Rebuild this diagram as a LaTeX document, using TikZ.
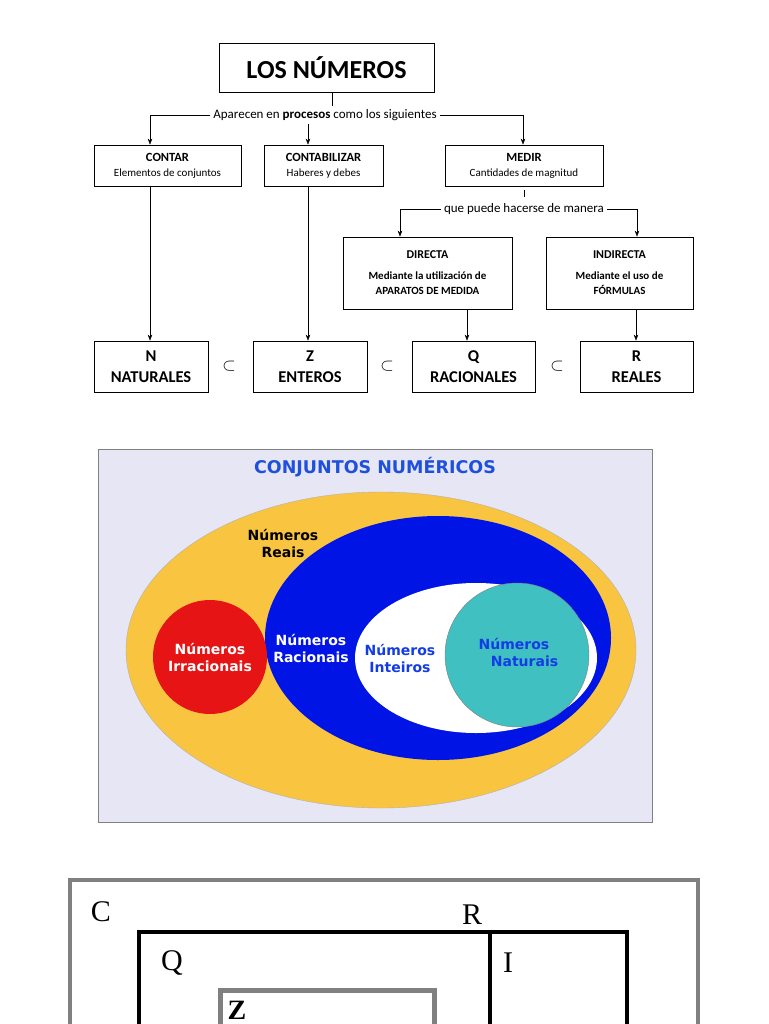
\documentclass[tikz,border=0pt]{standalone}
\usepackage{fontspec}
\setmainfont{Carlito}
\newfontfamily\tnr{Liberation Serif}
\newfontfamily\dvs{DejaVu Sans}
\usetikzlibrary{arrows.meta}
\definecolor{vbg}{RGB}{230,230,245}
\definecolor{vtit}{RGB}{30,80,220}
\definecolor{vyel}{RGB}{249,196,64}
\definecolor{vblue}{RGB}{0,20,230}
\definecolor{vteal}{RGB}{64,192,192}
\definecolor{vred}{RGB}{230,20,20}
\definecolor{vtxt}{RGB}{20,60,230}
\newcommand\smtx{\fontsize{11}{14}\selectfont}
\begin{document}
\begin{tikzpicture}[x=1pt,y=-1pt,
 bx/.style={draw,thick,fill=white,align=center,inner sep=0pt},
 arr/.style={-{Stealth[length=6pt]},thin},
 vl/.style={font=\dvs\bfseries\fontsize{14}{17}\selectfont,align=center}]
\useasboundingbox (0,0) rectangle (768,1024);
\node[bx,minimum width=215,minimum height=49,font=\bfseries\fontsize{26}{28}\selectfont] (top) at (326.5,67.5) {LOS NÚMEROS};
\node[bx,minimum width=147,minimum height=41,font=\fontsize{12.5}{15}\selectfont] (contar) at (167.5,165.5) {\textbf{CONTAR}\\\smtx Elementos de conjuntos};
\node[bx,minimum width=119,minimum height=41,font=\fontsize{12.5}{15}\selectfont] (conta) at (323.5,165.5) {\textbf{CONTABILIZAR}\\\smtx Haberes y debes};
\node[bx,minimum width=158,minimum height=41,font=\fontsize{12.5}{15}\selectfont] (medir) at (524,165.5) {\textbf{MEDIR}\\\smtx Cantidades de magnitud};
\node[bx,minimum width=169,minimum height=72,font=\fontsize{12}{15}\selectfont] (dir) at (427.5,273) {\textbf{DIRECTA}\\[6pt]\smtx\bfseries Mediante la utilización de\\\smtx\bfseries APARATOS DE MEDIDA};
\node[bx,minimum width=147,minimum height=72,font=\fontsize{12}{15}\selectfont] (ind) at (619.5,273) {\textbf{INDIRECTA}\\[6pt]\smtx\bfseries Mediante el uso de\\\smtx\bfseries FÓRMULAS};
\foreach \n/\x/\w/\a/\b in {N/151/114/N/NATURALES, Z/310/114/Z/ENTEROS, Q/473.5/123/Q/RACIONALES, R/636.5/113/R/REALES}
  \node[bx,minimum width=\w,minimum height=51,font=\bfseries\fontsize{16.5}{21}\selectfont] (\n) at (\x,366.5) {\a\\\b};
\foreach \x in {229,387,557} \node[font=\fontsize{17}{18}\selectfont] (sub\x) at (\x,366) {$\subset$};
\node[font=\fontsize{13}{15}\selectfont,fill=white,inner sep=3pt] (lab1) at (325,115) {Aparecen en \textbf{procesos} como los siguientes};
\draw (top.south) ++(5.5,0) coordinate (t0) -- (t0 |- lab1.north);
\coordinate (a1) at ([xshift=-17.5]contar.north);
\coordinate (a2) at ([xshift=-15.5]conta.north);
\coordinate (a3) at ([xshift=-1]medir.north);
\draw[arr] (lab1.west) -| (a1);
\draw[arr] (a2 |- lab1.south) -- (a2);
\draw[arr] (lab1.east) -| (a3);
\node[font=\fontsize{13}{15}\selectfont,fill=white,inner sep=3pt] (lab2) at (524,209) {que puede hacerse de manera};
\draw (medir.south) ++(0,4) -- ++(0,7);
\coordinate (a4) at ([xshift=-27.5]dir.north);
\coordinate (a5) at ([xshift=17.5]ind.north);
\draw[arr] (lab2.west) -| (a4);
\draw[arr] (lab2.east) -| (a5);
\draw[arr] (a1 |- contar.south) -- (a1 |- N.north);
\draw[arr] (a2 |- conta.south) -- (a2 |- Z.north);
\draw[arr] (dir.south) ++(39.5,0) coordinate (c3) -- (c3 |- Q.north);
\draw[arr] (ind.south) ++(16.5,0) coordinate (c4) -- (c4 |- R.north);
% Venn
\draw[fill=vbg,draw=gray] (98,449) rectangle (652,822);
\node[font=\dvs\bfseries\fontsize{17.5}{19}\selectfont,text=vtit] (vt) at (375,467) {CONJUNTOS NUMÉRICOS};
\fill[vyel] (381,650) ellipse (255 and 158);
\draw[gray!60] (381,650) ellipse (255 and 158);
\fill[vblue] (438,638) ellipse (173 and 122);
\fill[white] (476,658) ellipse (121 and 75);
\draw[fill=vteal,draw=gray] (517,655) circle (72);
\fill[vred] (210,657) circle (57);
\node[vl] (vr) at (283,543) {Números\\Reais};
\node[vl,text=white] (vi) at (210,657) {Números\\Irracionais};
\node[vl,text=white] (vq) at (311,648) {Números\\Racionais};
\node[vl,text=vtxt] (vz) at (400,658) {Números\\Inteiros};
\node[vl,text=vtxt] (vn) at (514,652) {Números\\\hspace*{1.5em}Naturais};
% bottom sets
\draw[line width=4pt,draw=gray] (70,880) rectangle (698,1040);
\draw[line width=4pt] (139,932) rectangle (627,1040);
\draw[line width=4pt] (490,932) -- (490,1040);
\draw[line width=5pt,draw=gray] (220,990) rectangle (434,1040);
\node[font=\tnr\fontsize{30}{32}\selectfont] (lc) at (101,912) {C};
\node[font=\tnr\fontsize{30}{32}\selectfont] (lr) at (472,915) {R};
\node[font=\tnr\fontsize{30}{32}\selectfont] (lq) at (172,963) {Q};
\node[font=\tnr\fontsize{30}{32}\selectfont] (li) at (508,963) {I};
\node[font=\tnr\bfseries\fontsize{28}{30}\selectfont] (lz) at (237,1010) {Z};
\end{tikzpicture}
\end{document}
